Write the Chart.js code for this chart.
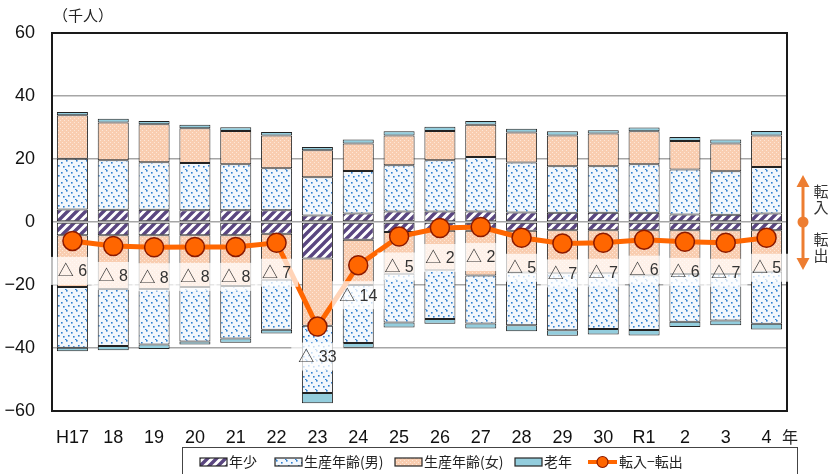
<!DOCTYPE html>
<html lang="ja">
<head>
<meta charset="utf-8">
<script src="https://cdn.jsdelivr.net/npm/chart.js@4.4.0/dist/chart.umd.min.js"></script>
<style>
  html, body { margin: 0; padding: 0; background: #fff; }
  #wrap { width: 830px; height: 474px; }
</style>
</head>
<body>
<div id="wrap"><canvas id="migrationChart" width="830" height="474"></canvas></div>
<script>
// Categories (fiscal years)
const years = ['H17', '18', '19', '20', '21', '22', '23', '24', '25', '26', '27', '28', '29', '30', 'R1', '2', '3', '4'];

// 転入 (thousand persons)
const inYoung  = [4.0, 3.9, 3.9, 3.7, 3.7, 3.7, 2.1, 2.7, 3.3, 3.3, 3.3, 3.0, 2.9, 2.9, 2.9, 2.4, 2.3, 2.7];
const inMale   = [16.1, 15.7, 15.1, 15.0, 14.6, 13.4, 12.1, 13.5, 14.7, 16.3, 17.3, 15.9, 14.8, 14.8, 15.4, 14.3, 13.8, 14.8];
const inFemale = [13.8, 12.0, 12.0, 11.1, 10.6, 10.4, 8.6, 8.7, 9.5, 9.3, 10.3, 9.5, 9.8, 10.4, 10.5, 9.0, 8.8, 10.0];
const inOld    = [1.0, 1.2, 1.1, 1.1, 1.2, 1.1, 1.0, 1.3, 1.3, 1.3, 1.2, 1.2, 1.3, 1.0, 1.2, 1.3, 1.3, 1.4];

// 転出 (thousand persons, drawn below zero)
const outYoung  = [4.2, 4.2, 4.2, 4.2, 4.2, 3.7, 11.6, 5.6, 3.2, 2.8, 2.8, 2.8, 2.6, 2.6, 2.6, 2.6, 2.6, 2.6];
const outFemale = [16.4, 17.1, 17.1, 16.4, 16.1, 14.6, 21.3, 14.4, 13.2, 12.5, 14.2, 13.2, 13.7, 13.7, 14.3, 13.9, 13.9, 13.2];
const outMale   = [19.3, 18.1, 17.6, 17.3, 16.7, 15.9, 21.4, 18.4, 15.5, 15.5, 15.2, 16.8, 18.1, 17.7, 17.4, 15.2, 14.8, 16.5];
const outOld    = [1.1, 1.3, 1.4, 1.0, 1.3, 1.2, 3.2, 1.5, 1.6, 1.5, 1.6, 1.9, 1.7, 1.7, 1.7, 1.6, 1.5, 1.8];

// 転入−転出
const netMove = [-6.0, -7.6, -8.0, -7.9, -7.9, -6.6, -33.2, -13.7, -4.6, -1.9, -1.6, -5.0, -6.8, -6.6, -5.6, -6.3, -6.6, -5.0];

const yTicks = [-60, -40, -20, 0, 20, 40, 60];

const FONT_NUM = "'Liberation Sans', Arial, sans-serif";
const FONT_JP = "'Noto Sans CJK JP', sans-serif";
const ORANGE = '#ff6600';

// fill patterns
function tile(w, h, paint) {
    const c = document.createElement('canvas');
    c.width = w; c.height = h;
    const g = c.getContext('2d');
    paint(g);
    return g.createPattern(c, 'repeat');
}
const hatchYoung = tile(9, 9, g => {
    g.fillStyle = '#fff';
    g.fillRect(0, 0, 9, 9);
    g.strokeStyle = '#5a4680';
    g.lineWidth = 3.4;
    g.beginPath();
    g.moveTo(-2, 11); g.lineTo(11, -2);
    g.moveTo(-6, 6); g.lineTo(6, -6);
    g.moveTo(3, 15); g.lineTo(15, 3);
    g.stroke();
});
const dotsMale = tile(10, 10, g => {
    g.fillStyle = '#f2f7fc';
    g.fillRect(0, 0, 10, 10);
    g.fillStyle = '#2f7fd0';
    [[1, 2], [6, 0], [3, 6], [8, 5], [5, 9]].forEach(p => g.fillRect(p[0], p[1], 1.6, 1.6));
});
const peachFemale = tile(4, 4, g => {
    g.fillStyle = '#f9cdb0';
    g.fillRect(0, 0, 4, 4);
    g.fillStyle = '#fde7d8';
    g.fillRect(0, 0, 1, 1);
    g.fillRect(2, 2, 1, 1);
});
const tealOld = '#93cddd';

function barSet(label, data, fill) {
    return {
        type: 'bar',
        label: label,
        data: data,
        backgroundColor: fill,
        borderColor: '#222',
        borderWidth: 1,
        borderSkipped: false,
        stack: 'people',
        order: 1
    };
}

// labels under each point, right-side arrow, frame, legend, captions
const decorations = {
    id: 'decorations',
    afterDatasetsDraw(chart) {
        const ctx = chart.ctx;
        const area = chart.chartArea;
        const meta = chart.getDatasetMeta(0);
        ctx.save();
        ctx.strokeStyle = '#1a1a1a';
        ctx.lineWidth = 2;
        ctx.strokeRect(area.left, area.top, area.right - area.left, area.bottom - area.top);

        ctx.font = '16px ' + FONT_NUM + ', ' + FONT_JP;
        ctx.textAlign = 'center';
        ctx.textBaseline = 'middle';
        meta.data.forEach((pt, i) => {
            const text = '△ ' + Math.round(Math.abs(netMove[i]));
            const ty = pt.y + 30;
            const w = ctx.measureText(text).width + 14;
            ctx.fillStyle = 'rgba(255,255,255,0.72)';
            ctx.fillRect(pt.x - w / 2, ty - 14, w, 28);
            ctx.fillStyle = '#333';
            ctx.fillText(text, pt.x, ty + 1);
        });
        ctx.restore();
    },
    afterDraw(chart) {
        const ctx = chart.ctx;
        const y0 = chart.scales.y.getPixelForValue(0);
        ctx.save();

        // unit caption and year suffix
        ctx.fillStyle = '#222';
        ctx.font = '15px ' + FONT_JP;
        ctx.textBaseline = 'middle';
        ctx.textAlign = 'left';
        ctx.fillText('（千人）', 53, 15);
        ctx.font = '16px ' + FONT_JP;
        ctx.fillText('年', 782, 437);

        // 転入 / 転出 arrow
        const ax = 803;
        ctx.strokeStyle = '#ed7d31';
        ctx.fillStyle = '#ed7d31';
        ctx.lineWidth = 3;
        ctx.beginPath();
        ctx.moveTo(ax, y0 - 38); ctx.lineTo(ax, y0 + 38);
        ctx.stroke();
        ctx.beginPath();
        ctx.moveTo(ax, y0 - 47); ctx.lineTo(ax - 6.5, y0 - 35); ctx.lineTo(ax + 6.5, y0 - 35); ctx.closePath();
        ctx.moveTo(ax, y0 + 48); ctx.lineTo(ax - 6.5, y0 + 36); ctx.lineTo(ax + 6.5, y0 + 36); ctx.closePath();
        ctx.fill();
        ctx.beginPath();
        ctx.arc(ax, y0, 5.5, 0, Math.PI * 2);
        ctx.fill();
        ctx.fillStyle = '#333';
        ctx.font = '15px ' + FONT_JP;
        ctx.textAlign = 'center';
        ctx.fillText('転', 821, y0 - 31);
        ctx.fillText('入', 821, y0 - 15);
        ctx.fillText('転', 821, y0 + 17);
        ctx.fillText('出', 821, y0 + 33);

        // legend
        ctx.strokeStyle = '#444';
        ctx.lineWidth = 1;
        ctx.strokeRect(182.5, 447.5, 615, 34);
        const ly = 462;
        const items = [
            { x: 200, fill: hatchYoung, text: '年少' },
            { x: 275, fill: dotsMale, text: '生産年齢(男)' },
            { x: 395, fill: peachFemale, text: '生産年齢(女)' },
            { x: 515, fill: tealOld, text: '老年' }
        ];
        ctx.font = '14px ' + FONT_JP;
        ctx.textAlign = 'left';
        items.forEach(it => {
            ctx.fillStyle = it.fill;
            ctx.fillRect(it.x, ly - 4, 27, 8);
            ctx.strokeStyle = '#262626';
            ctx.lineWidth = 1.2;
            ctx.strokeRect(it.x, ly - 4, 27, 8);
            ctx.fillStyle = '#222';
            ctx.fillText(it.text, it.x + 29, ly);
        });
        ctx.strokeStyle = ORANGE;
        ctx.lineWidth = 4;
        ctx.beginPath();
        ctx.moveTo(588, ly); ctx.lineTo(617, ly);
        ctx.stroke();
        ctx.beginPath();
        ctx.arc(602.5, ly, 5.5, 0, Math.PI * 2);
        ctx.fillStyle = ORANGE;
        ctx.fill();
        ctx.strokeStyle = '#8b1a00';
        ctx.lineWidth = 1.2;
        ctx.stroke();
        ctx.fillStyle = '#222';
        ctx.fillText('転入−転出', 619, ly);
        ctx.restore();
    }
};

document.addEventListener('DOMContentLoaded', () => {
    const canvas = document.getElementById('migrationChart');
    new Chart(canvas, {
        data: {
            labels: years,
            datasets: [
                {
                    type: 'line',
                    label: '転入−転出',
                    data: netMove,
                    borderColor: ORANGE,
                    borderWidth: 5,
                    pointRadius: 9.5,
                    pointBackgroundColor: ORANGE,
                    pointBorderColor: '#8b1a00',
                    pointBorderWidth: 1.5,
                    tension: 0,
                    stack: 'net',
                    order: 0
                },
                barSet('年少', inYoung, hatchYoung),
                barSet('生産年齢(男)', inMale, dotsMale),
                barSet('生産年齢(女)', inFemale, peachFemale),
                barSet('老年', inOld, tealOld),
                barSet('年少', outYoung.map(v => -v), hatchYoung),
                barSet('生産年齢(女)', outFemale.map(v => -v), peachFemale),
                barSet('生産年齢(男)', outMale.map(v => -v), dotsMale),
                barSet('老年', outOld.map(v => -v), tealOld)
            ]
        },
        options: {
            responsive: false,
            animation: false,
            layout: { padding: { left: 0, top: 33, right: 43, bottom: 0 } },
            datasets: {
                bar: { categoryPercentage: 0.76, barPercentage: 1 }
            },
            scales: {
                x: {
                    stacked: true,
                    grid: { display: false },
                    border: { display: false },
                    ticks: {
                        color: '#111',
                        font: { family: FONT_NUM, size: 18 },
                        padding: 8,
                        maxRotation: 0,
                        autoSkip: false
                    },
                    afterFit: scale => { scale.height = 63; }
                },
                y: {
                    stacked: true,
                    min: -60,
                    max: 60,
                    afterBuildTicks: scale => { scale.ticks = yTicks.map(v => ({ value: v })); },
                    grid: { color: '#a6a6a6', lineWidth: 1.5, drawTicks: false },
                    border: { display: false },
                    ticks: {
                        color: '#111',
                        font: { family: FONT_NUM, size: 18 },
                        padding: 17,
                        callback: v => String(v).replace('-', '−')
                    },
                    afterFit: scale => { scale.width = 52; }
                }
            },
            plugins: {
                legend: { display: false },
                tooltip: { enabled: false }
            }
        },
        plugins: [decorations]
    });
});
</script>
</body>
</html>
